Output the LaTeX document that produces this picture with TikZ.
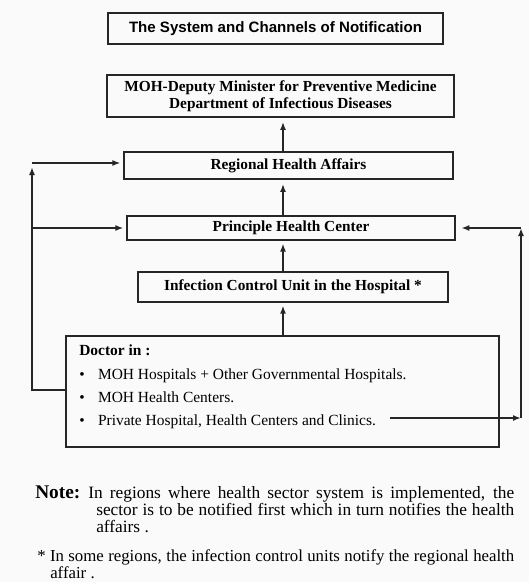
\documentclass[tikz,border=0pt]{standalone}
\usepackage{fontspec}
\setmainfont{Liberation Serif}
\setsansfont{Liberation Sans}
\usetikzlibrary{arrows.meta,calc}

\begin{document}
\begin{tikzpicture}[x=0.75pt,y=-0.75pt]
\tikzstyle{every node}+=[inner sep=0pt]
\tikzstyle{box}=[draw=black!85,line width=1.4pt,rectangle,align=center,font=\bfseries\fontsize{11.5}{12.75}\selectfont]
\tikzstyle{item}=[anchor=base west,font=\fontsize{11.6}{13}\selectfont]
\tikzstyle{note}=[anchor=north west,align=justify,font=\fontsize{13}{12.7}\selectfont]
\tikzstyle{arr}=[draw=black!85,line width=1.3pt,-{Latex[length=6pt,width=4.5pt]}]
\fill [black!2] (0,0) rectangle (529,582);
\useasboundingbox (0,0) rectangle (529,582);
\node [box,minimum width=251.25pt,minimum height=23.25pt,font=\sffamily\bfseries\fontsize{11.3}{13}\selectfont] (title) at (275.5,28.5) {The System and Channels of Notification};
\node [box,minimum width=260.25pt,minimum height=31.5pt] (moh) at (280.5,96) {MOH-Deputy Minister for Preventive Medicine\\Department of Infectious Diseases};
\node [box,minimum width=246.75pt,minimum height=20.25pt] (rha) at (288.5,165.5) {Regional Health Affairs};
\node [box,minimum width=246pt,minimum height=18pt] (phc) at (291,228) {Principle Health Center};
\node [box,minimum width=232.5pt,minimum height=22.5pt] (icu) at (293,287) {Infection Control Unit in the Hospital *};
\node [box,minimum width=324.75pt,minimum height=83.25pt] (doc) at (282.5,391.5) {};
\node [item,font=\bfseries\fontsize{11.6}{13}\selectfont] (docin) at (79,355) {Doctor in :};
\node [item] (item1) at (79,379) {\textbullet\hspace{10pt}MOH Hospitals + Other Governmental Hospitals.};
\node [item] (item2) at (79,402) {\textbullet\hspace{10pt}MOH Health Centers.};
\node [item] (item3) at (79,425) {\textbullet\hspace{10pt}Private Hospital, Health Centers and Clinics.};
\coordinate (mid) at (283,0);
\coordinate (lt) at (32,163);
\coordinate (lb) at (32,390);
\coordinate (rt) at (521,228);
\coordinate (rb) at (521,418);
\draw [arr,shorten >=3pt] (mid |- rha.north) -- (mid |- moh.south);
\draw [arr,shorten >=3pt] (mid |- phc.north) -- (mid |- rha.south);
\draw [arr,shorten >=2pt] (mid |- icu.north) -- (mid |- phc.south);
\draw [arr,shorten >=2pt] (mid |- doc.north) -- (mid |- icu.south);
\draw [arr,shorten >=3pt] (doc.west |- lb) -| (lt);
\draw [arr,shorten >=2pt] (lt) -- (lt -| rha.west);
\draw [arr,shorten >=2pt] (lt |- phc.west) -- (phc.west);
\draw [arr] ($(rb -| item3.east)+(14,0)$) -- (rb);
\draw [arr] (rb) -- (rt);
\draw [arr,shorten >=4pt] (rt) -- (rt -| phc.east);
\node [anchor=base west,font=\bfseries\fontsize{14.5}{15}\selectfont] (notelbl) at (35,498) {Note:};
\node [note,text width=313.5pt] (notetxt) at (96,486) {\hyphenpenalty=10000\hspace*{-6pt}In regions where health sector system is implemented, the\linebreak sector is to be notified first which in turn notifies the health\linebreak affairs .\par};
\node [note,text width=348pt,font=\fontsize{12.6}{12.3}\selectfont] (foot) at (50,549.5) {\hyphenpenalty=10000\hspace*{-9.75pt}* In some regions, the infection control units notify the regional health\linebreak affair .\par};
\end{tikzpicture}
\end{document}
